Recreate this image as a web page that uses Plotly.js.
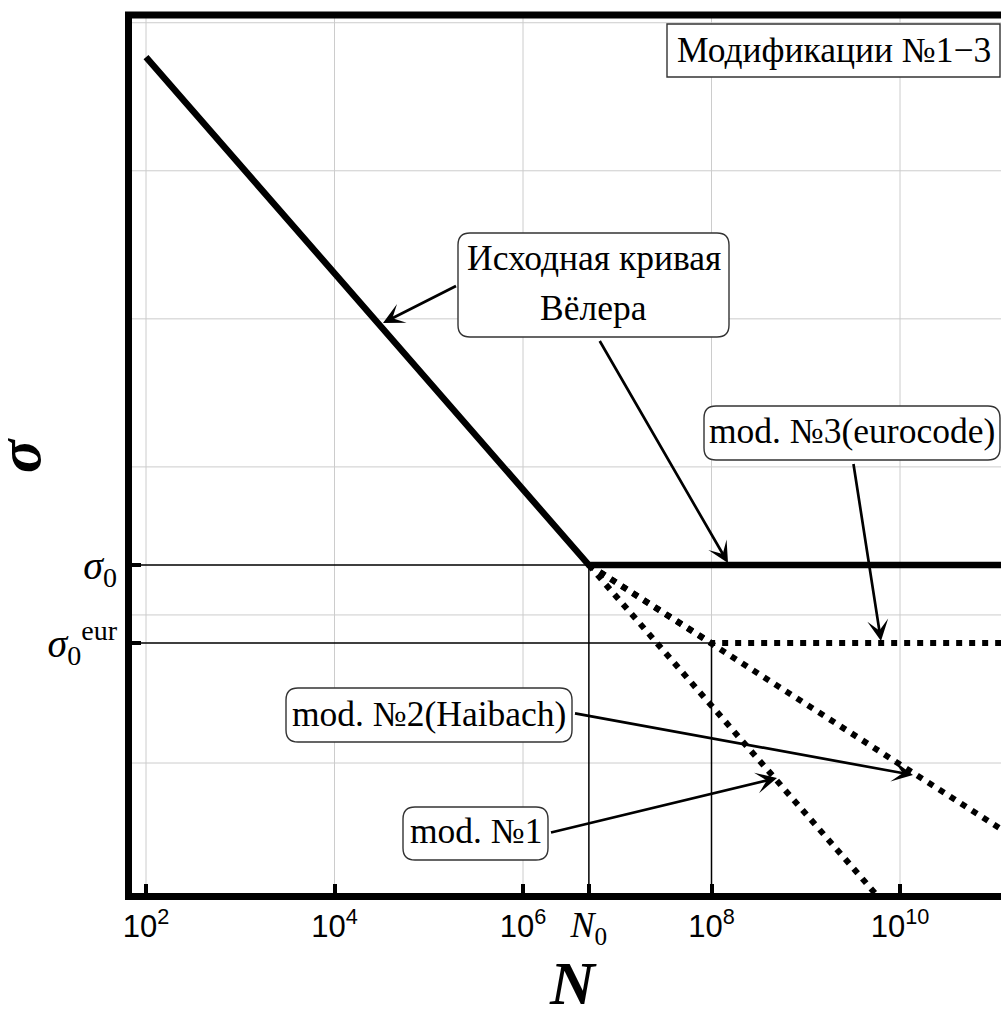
<!DOCTYPE html>
<html><head><meta charset="utf-8">
<script src="https://cdn.plot.ly/plotly-3.0.1.min.js"></script>
<style>html,body{margin:0;padding:0;background:#fff}</style>
</head><body>
<div id="chart" style="width:1001px;height:1009px"></div>
<script>
// ---- data (N: number of cycles, S: log-stress level in arbitrary units) ----
const N0 = 5e6;
const Neur = 1e8;
const sigma0 = 2.337;
const sigmaEur = 1.81;

const wohlerN = [1e2, 5e6, 2e11];
const wohlerS = [5.768, 2.337, 2.337];
const mod1N = [5e6, 1e10];
const mod1S = [2.337, -0.073];
const mod2N = [5e6, 1e8, 3e11];
const mod2S = [2.337, 1.81, 0.388];
const mod3N = [5e6, 1e8, 2e11];
const mod3S = [2.337, 1.81, 1.81];

const guide0N = [1e1, N0, N0];
const guide0S = [sigma0, sigma0, -1];
const guideEurN = [1e1, Neur, Neur];
const guideEurS = [sigmaEur, sigmaEur, -1];

const SERIF = 'Liberation Serif, Times New Roman, serif';
const xTickVals = [1e2, 1e4, 1e6, N0, 1e8, 1e10];
const xTickText = ['10<sup>2</sup>', '10<sup>4</sup>', '10<sup>6</sup>',
  '<span style="font-family:Liberation Serif;font-size:36px"><i>N</i><sub>0</sub></span>',
  '10<sup>8</sup>', '10<sup>10</sup>'];
const xGridVals = [1e2, 1e4, 1e6, 1e8, 1e10];
const yGridVals = [1, 2, 3, 4, 5, 6];
const yTickVals = [sigmaEur, sigma0];
const yTickText = ['<i>σ</i><sub>0</sub><sup>eur</sup>', '<i>σ</i><sub>0</sub>'];
const xTitle = '<b><i>N</i></b>';
const yTitle = '<b><i>σ</i></b>';

// ---- layout helpers (pixel -> paper) ----
const M = {l: 132, r: 0, t: 18, b: 116};
const W = 1001, H = 1009;
const PW = W - M.l - M.r, PH = H - M.t - M.b;
const px = x => (x - M.l) / PW;
const py = y => (H - M.b - y) / PH;

function roundRect(x0, y0, x1, y1, r) {
  const P = (x, y) => px(x).toFixed(5) + ',' + py(y).toFixed(5);
  return 'M' + P(x0 + r, y0) + ' L' + P(x1 - r, y0) + ' Q' + P(x1, y0) + ' ' + P(x1, y0 + r) +
    ' L' + P(x1, y1 - r) + ' Q' + P(x1, y1) + ' ' + P(x1 - r, y1) +
    ' L' + P(x0 + r, y1) + ' Q' + P(x0, y1) + ' ' + P(x0, y1 - r) +
    ' L' + P(x0, y0 + r) + ' Q' + P(x0, y0) + ' ' + P(x0 + r, y0) + ' Z';
}

const dotted = {color: 'black', width: 6, dash: '6px,7px'};
const traces = [
  {x: guide0N, y: guide0S, mode: 'lines', line: {color: 'black', width: 1.5}, hoverinfo: 'skip'},
  {x: guideEurN, y: guideEurS, mode: 'lines', line: {color: 'black', width: 1.5}, hoverinfo: 'skip'},
  {x: mod1N, y: mod1S, mode: 'lines', line: dotted, name: 'mod. №1'},
  {x: mod2N, y: mod2S, mode: 'lines', line: dotted, name: 'mod. №2(Haibach)'},
  {x: mod3N, y: mod3S, mode: 'lines', line: dotted, name: 'mod. №3(eurocode)'},
  {x: wohlerN, y: wohlerS, mode: 'lines', line: {color: 'black', width: 6.5}, name: 'Вёлер'}
];

const shapes = [];
xGridVals.forEach(v => shapes.push({type: 'line', xref: 'x', yref: 'paper', x0: v, x1: v, y0: 0, y1: 1,
  line: {color: '#cccccc', width: 1}, layer: 'below'}));
yGridVals.forEach(v => shapes.push({type: 'line', xref: 'paper', yref: 'y', x0: 0, x1: 1, y0: v, y1: v,
  line: {color: '#cccccc', width: 1}, layer: 'below'}));
// top frame
shapes.push({type: 'line', xref: 'paper', yref: 'paper', x0: px(125), x1: 1.01, y0: py(15), y1: py(15),
  line: {color: 'black', width: 7}, layer: 'above'});
// label boxes
const boxLine = {color: '#333', width: 1.4};
shapes.push({type: 'path', xref: 'paper', yref: 'paper', path: roundRect(667, 24, 1000, 77, 0), fillcolor: 'white', line: boxLine, layer: 'above'});
shapes.push({type: 'path', xref: 'paper', yref: 'paper', path: roundRect(458, 233, 729, 337, 12), fillcolor: 'white', line: boxLine, layer: 'above'});
shapes.push({type: 'path', xref: 'paper', yref: 'paper', path: roundRect(704, 406, 1000, 460, 12), fillcolor: 'white', line: boxLine, layer: 'above'});
shapes.push({type: 'path', xref: 'paper', yref: 'paper', path: roundRect(286, 688, 572, 742, 12), fillcolor: 'white', line: boxLine, layer: 'above'});
shapes.push({type: 'path', xref: 'paper', yref: 'paper', path: roundRect(403, 807, 548, 860, 12), fillcolor: 'white', line: boxLine, layer: 'above'});

const tf = {family: SERIF, size: 35.5, color: 'black'};
function label(text, cx, cy) {
  return {text: text, xref: 'paper', yref: 'paper', x: px(cx), y: py(cy), xanchor: 'center', yanchor: 'middle',
    showarrow: false, font: tf};
}
function arrow(tx, ty, hx, hy) {
  return {text: ' ', xref: 'paper', yref: 'paper', x: px(hx), y: py(hy), axref: 'pixel', ayref: 'pixel',
    ax: tx - hx, ay: ty - hy, showarrow: true, arrowhead: 3, arrowsize: 1.3, arrowwidth: 2.7,
    arrowcolor: 'black', standoff: 0, startstandoff: 0, font: {size: 2}};
}
const titleFont = {family: SERIF, size: 62, color: 'black'};
const annotations = [
  label('Модификации №1−3', 833.5, 50),
  label('Исходная кривая', 593.5, 258),
  label('Вёлера', 593.5, 308),
  label('mod. №3(eurocode)', 852, 431),
  label('mod. №2(Haibach)', 429, 714),
  label('mod. №1', 475.5, 831),
  arrow(458, 285, 383, 323),
  arrow(598, 338, 728, 563),
  arrow(853, 461, 881, 641),
  arrow(573, 713, 913, 775),
  arrow(549, 833, 777, 778),
  {text: xTitle, xref: 'paper', yref: 'paper', x: px(573), y: py(983), xanchor: 'center', yanchor: 'middle',
    showarrow: false, font: titleFont},
  {text: yTitle, xref: 'paper', yref: 'paper', x: px(19), y: py(455), xanchor: 'center', yanchor: 'middle',
    textangle: -90, showarrow: false, font: titleFont}
];

const layout = {
  width: W, height: H, margin: M, showlegend: false,
  paper_bgcolor: 'white', plot_bgcolor: 'white',
  xaxis: {type: 'log', range: [1.8515, 11.0716], showline: true, linewidth: 7, linecolor: 'black',
    ticks: 'inside', ticklen: 9, tickwidth: 4, tickcolor: 'black', tickmode: 'array',
    tickvals: xTickVals, ticktext: xTickText, tickfont: {family: 'Liberation Sans, Arial, sans-serif', size: 31, color: 'black'},
    showgrid: false, zeroline: false},
  yaxis: {range: [0.122, 6.032], showline: true, linewidth: 7, linecolor: 'black',
    ticks: 'inside', ticklen: 9, tickwidth: 4, tickcolor: 'black', tickmode: 'array',
    tickvals: yTickVals, ticktext: yTickText, tickfont: {family: SERIF, size: 40, color: 'black'},
    showgrid: false, zeroline: false},
  shapes: shapes, annotations: annotations
};
Plotly.newPlot('chart', traces, layout, {staticPlot: true});
</script>
</body></html>
